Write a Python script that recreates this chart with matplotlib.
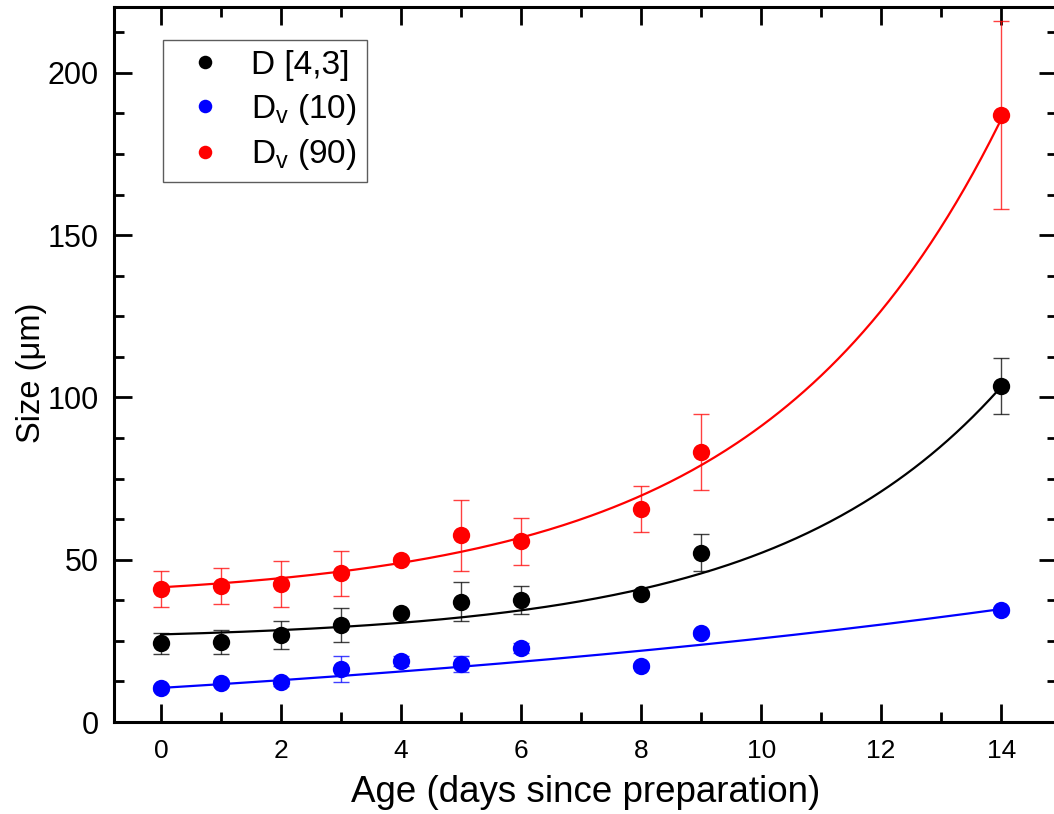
import matplotlib
matplotlib.use('Agg')
import matplotlib.pyplot as plt
from matplotlib.ticker import MultipleLocator
import numpy as np

plt.rcParams['font.family'] = ['Liberation Sans', 'DejaVu Sans']
plt.rcParams['mathtext.fontset'] = 'custom'
plt.rcParams['mathtext.rm'] = 'Liberation Sans'
plt.rcParams['mathtext.it'] = 'Liberation Sans'

# data
days = [0, 1, 2, 3, 4, 5, 6, 8, 9, 14]
d43 = [24.3, 24.7, 26.8, 29.9, 33.6, 37.1, 37.6, 39.4, 52.2, 103.5]
d43_err = [3.2, 3.6, 4.3, 5.2, 1.0, 6.0, 4.4, 1.0, 5.7, 8.5]
dv10 = [10.5, 12.0, 12.4, 16.3, 18.9, 17.8, 22.9, 17.3, 27.4, 34.5]
dv10_err = [0.8, 1.0, 1.2, 3.9, 1.5, 2.4, 1.5, 0.8, 1.0, 1.0]
dv90 = [41.0, 41.8, 42.5, 45.8, 49.9, 57.5, 55.7, 65.6, 83.3, 187.0]
dv90_err = [5.5, 5.5, 7.0, 7.0, 1.0, 11.0, 7.3, 7.2, 11.7, 29.0]

# exponential growth fits y = c + b*exp(k*x), parameters estimated from the drawn curves
fit_c = [25.1, -8.9, 37.2]
fit_b = [1.887, 19.4, 4.3]
fit_k = [0.266, 0.058, 0.253]

labels = ['D [4,3]', r'D$_{\rm v}$ (10)', r'D$_{\rm v}$ (90)']
colors = ['black', '#0000ff', '#ff0000']

fig = plt.figure(figsize=(10.54, 8.14), dpi=100)
ax = fig.add_axes([114 / 1054, 1 - 722 / 814, (1057 - 114) / 1054, (722 - 7) / 814])

xs = np.linspace(0, 14, 300)
series = [(d43, d43_err), (dv10, dv10_err), (dv90, dv90_err)]
for i, ((vals, errs), lab, col) in enumerate(zip(series, labels, colors)):
    ax.plot(xs, fit_c[i] + fit_b[i] * np.exp(fit_k[i] * xs), color=col, lw=1.6, zorder=2)
    ax.errorbar(days, vals, yerr=errs, fmt='none', ecolor=col, elinewidth=1.0,
                capsize=5.5, capthick=1.0, alpha=0.75, zorder=3)
    ax.plot(days, vals, 'o', color=col, markersize=12.5, markeredgewidth=0,
            label=lab, zorder=4)

ax.set_xlim(-0.783, 14.93)
ax.set_ylim(0, 220.3)
ax.xaxis.set_major_locator(MultipleLocator(2))
ax.xaxis.set_minor_locator(MultipleLocator(1))
ax.yaxis.set_major_locator(MultipleLocator(50))
ax.yaxis.set_minor_locator(MultipleLocator(12.5))
ax.tick_params(which='both', direction='in', top=True, right=True, width=2)
ax.tick_params(which='major', length=13)
ax.tick_params(which='minor', length=7)
ax.tick_params(axis='x', labelsize=19, pad=12)
ax.tick_params(axis='y', labelsize=22, pad=11)
for s in ax.spines.values():
    s.set_linewidth(2.2)

ax.set_xlabel('Age (days since preparation)', fontsize=26.5, labelpad=9)
ax.set_ylabel('Size (μm)', fontsize=23.5)
ax.yaxis.set_label_coords(-0.071, 0.488)

leg = ax.legend(loc='upper left', bbox_to_anchor=(49 / 943, 1 - 33 / 715),
                fontsize=24, frameon=True, fancybox=False, handletextpad=0.45,
                borderpad=0.3, labelspacing=0.32, handlelength=1.9,
                markerscale=0.78, borderaxespad=0)
leg.get_frame().set_edgecolor('#333333')
leg.get_frame().set_linewidth(1.0)

fig.savefig('out.png', dpi=100)
